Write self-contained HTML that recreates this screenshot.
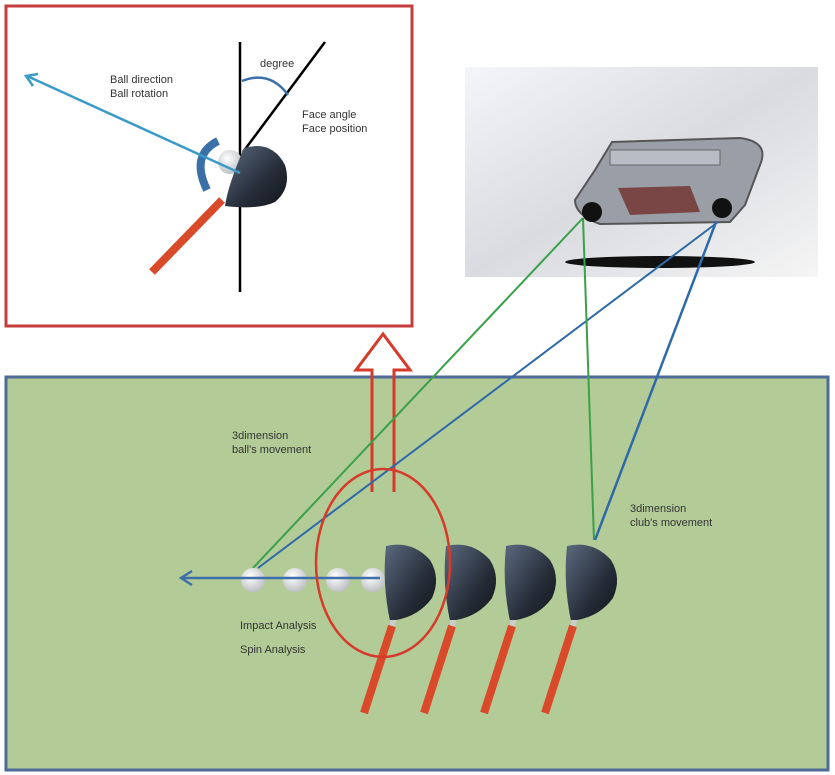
<!DOCTYPE html>
<html><head><meta charset="utf-8"><style>
body{margin:0;background:#fff;width:835px;height:775px;overflow:hidden}
svg{display:block}
text{font-family:"Liberation Sans",sans-serif;font-size:11px;fill:#333}
</style></head><body>
<svg width="835" height="775" viewBox="0 0 835 775">
<defs>
<linearGradient id="bg" x1="0" y1="0" x2="1" y2="1"><stop offset="0" stop-color="#f4f5f8"/><stop offset="0.5" stop-color="#d9dbe0"/><stop offset="1" stop-color="#f5f5f5"/></linearGradient>
<radialGradient id="ball" cx="0.4" cy="0.35" r="0.7"><stop offset="0" stop-color="#fff"/><stop offset="1" stop-color="#b8bcc0"/></radialGradient>
<linearGradient id="head" x1="0" y1="0" x2="1" y2="1"><stop offset="0" stop-color="#5b6a80"/><stop offset="0.6" stop-color="#262d38"/><stop offset="1" stop-color="#12161c"/></linearGradient>
<g id="club">
<path d="M-18,-32 Q8,-38 26,-18 Q37,0 28,20 Q15,38 -8,42 L-14,43 Q-22,5 -18,-32 Z" fill="url(#head)"/>
<path d="M-14,42 L-8,42 L-9,48 L-14,48 Z" fill="#ccc"/>
<line x1="-12" y1="48" x2="-40" y2="135" stroke="#d94a2a" stroke-width="8"/>
</g>
</defs>
<rect x="6" y="6" width="406" height="320" fill="#fff" stroke="#c43c3c" stroke-width="3"/>
<line x1="240" y1="42" x2="240" y2="292" stroke="#000" stroke-width="2.5"/>
<line x1="325" y1="42" x2="243" y2="152" stroke="#000" stroke-width="2.5"/>
<path d="M242,81 Q270,70 288,95" fill="none" stroke="#3a6fa8" stroke-width="2.5"/>
<text x="260" y="67">degree</text>
<text x="110" y="83">Ball direction</text>
<text x="110" y="97">Ball rotation</text>
<text x="302" y="118">Face angle</text>
<text x="302" y="132">Face position</text>
<line x1="222" y1="200" x2="152" y2="272" stroke="#d94a2a" stroke-width="8"/>
<circle cx="230" cy="162" r="12" fill="url(#ball)"/>
<path d="M244,148 Q272,140 285,165 Q292,188 275,202 Q258,210 225,206 Q228,185 244,148 Z" fill="url(#head)"/>
<path d="M218,141 Q190,155 207,190" fill="none" stroke="#3a6fa8" stroke-width="8"/>
<line x1="240" y1="173" x2="27" y2="76" stroke="#3a9ac8" stroke-width="2.5"/>
<path d="M38,74 L26,76 L33,86" fill="none" stroke="#3a9ac8" stroke-width="2.5"/>
<rect x="465" y="67" width="353" height="210" fill="url(#bg)"/>
<ellipse cx="660" cy="262" rx="95" ry="6" fill="#111"/>
<path d="M612,142 L740,138 Q770,142 760,165 L745,205 L730,222 L600,224 Q575,215 575,200 L595,170 Z" fill="#9a9ea6" stroke="#555" stroke-width="2"/>
<rect x="610" y="150" width="110" height="15" fill="#b8bcc4" stroke="#666"/>
<path d="M618,188 L690,186 L700,212 L630,215 Z" fill="#7a4545"/>
<circle cx="592" cy="212" r="10" fill="#111"/>
<circle cx="722" cy="208" r="10" fill="#111"/>
<rect x="6" y="377" width="822" height="393" fill="#b3cb97" stroke="#4e6b98" stroke-width="3"/>
<path d="M372,492 L372,370 L356,370 L383,334 L410,370 L394,370 L394,492" fill="none" stroke="#d63a2a" stroke-width="3"/>
<line x1="253" y1="568" x2="583" y2="218" stroke="#3aa04a" stroke-width="2"/>
<line x1="258" y1="568" x2="718" y2="222" stroke="#2f6aa8" stroke-width="2"/>
<line x1="583" y1="218" x2="594" y2="540" stroke="#3aa04a" stroke-width="2"/>
<line x1="716" y1="222" x2="595" y2="540" stroke="#2f6aa8" stroke-width="2.5"/>
<text x="232" y="439">3dimension</text>
<text x="232" y="453">ball's movement</text>
<text x="630" y="512">3dimension</text>
<text x="630" y="526">club's movement</text>
<text x="240" y="629">Impact Analysis</text>
<text x="240" y="653">Spin Analysis</text>
<circle cx="253" cy="580" r="12" fill="url(#ball)"/>
<circle cx="295" cy="580" r="12" fill="url(#ball)"/>
<circle cx="338" cy="580" r="12" fill="url(#ball)"/>
<circle cx="373" cy="580" r="12" fill="url(#ball)"/>
<line x1="380" y1="578" x2="182" y2="578" stroke="#3e6fa8" stroke-width="2.5"/>
<path d="M192,571 L181,578 L192,585" fill="none" stroke="#3e6fa8" stroke-width="2.5"/>
<use href="#club" x="404" y="578"/>
<use href="#club" x="464" y="578"/>
<use href="#club" x="524" y="578"/>
<use href="#club" x="585" y="578"/>
<ellipse cx="383" cy="563" rx="67" ry="94" fill="none" stroke="#d63a2a" stroke-width="2.5"/>
</svg>
</body></html>
